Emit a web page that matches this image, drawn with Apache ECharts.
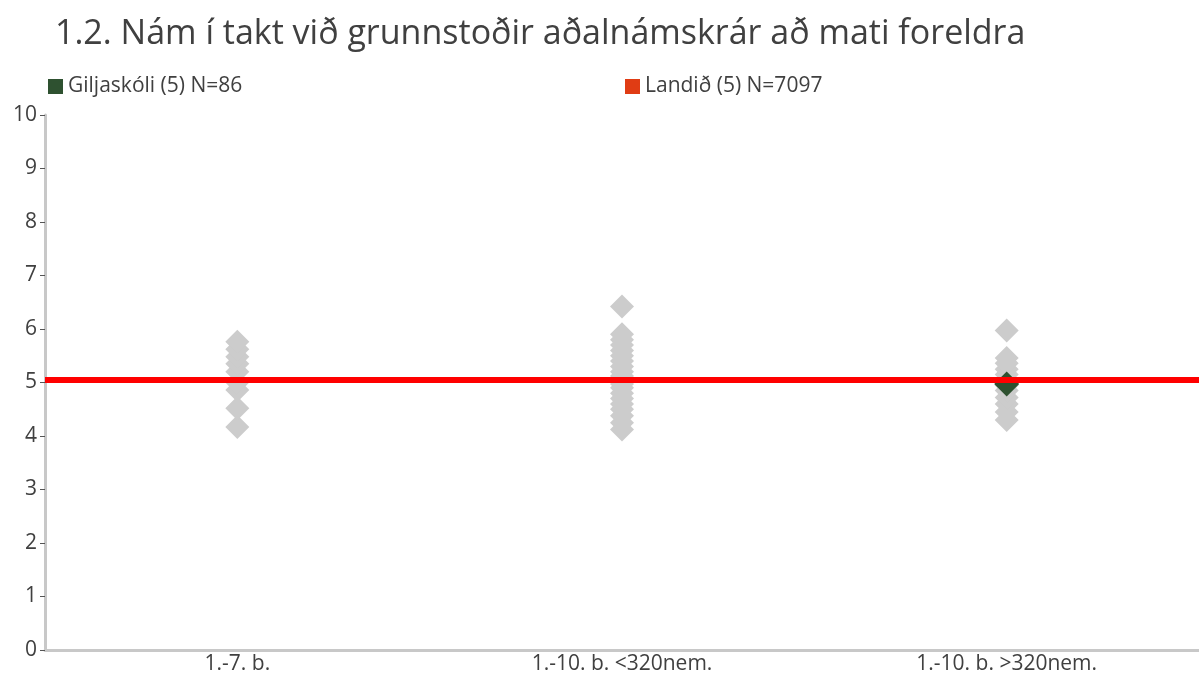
<!DOCTYPE html>
<html>
<head>
<meta charset="utf-8">
<script src="https://cdn.jsdelivr.net/npm/echarts@6/dist/echarts.min.js"></script>
<style>
  html, body { margin: 0; padding: 0; background: #fff; }
  #chart { width: 1199px; height: 675px; }
</style>
</head>
<body>
<div id="chart"></div>
<script>
var categories = ['1.-7. b.', '1.-10. b. <320nem.', '1.-10. b. >320nem.']
var yTicks = [0, 1, 2, 3, 4, 5, 6, 7, 8, 9, 10]

// other schools per group (grey diamonds)
var group1 = [4.17, 4.52, 4.86, 5.0, 5.2, 5.35, 5.48, 5.62, 5.76]
var group2 = [4.12, 4.25, 4.38, 4.5, 4.6, 4.7, 4.8, 4.9, 4.97, 5.04, 5.12, 5.2, 5.3, 5.4, 5.5, 5.6, 5.7, 5.8, 5.9, 6.42]
var group3 = [4.3, 4.45, 4.6, 4.72, 4.85, 4.95, 5.05, 5.15, 5.25, 5.36, 5.46, 5.97]

var schoolName = 'Giljaskóli (5) N=86'
var schoolValues = [null, null, 4.97]
var landName = 'Landið (5) N=7097'
var landValue = 5.05

var greyData = []
group1.forEach(function(v) { greyData.push([0, v]) })
group2.forEach(function(v) { greyData.push([1, v]) })
group3.forEach(function(v) { greyData.push([2, v]) })

var schoolData = []
schoolValues.forEach(function(v, i) {
  if (v !== null) schoolData.push([i, v])
})

var textColor = '#404040'
var font = 'Open Sans'

var myChart = echarts.init(document.getElementById('chart'), null, { renderer: 'canvas' })

var option = {
  animation: false,
  title: {
    text: '1.2. Nám í takt við grunnstoðir aðalnámskrár að mati foreldra',
    left: 50,
    top: 12,
    textStyle: { fontFamily: font, fontSize: 34, fontWeight: 'normal', color: textColor }
  },
  legend: [
    {
      data: [schoolName],
      left: 43,
      top: 71,
      icon: 'rect',
      itemWidth: 15,
      itemHeight: 15,
      itemGap: 6,
      textStyle: { fontFamily: font, fontSize: 21, color: textColor }
    },
    {
      data: [landName],
      left: 620,
      top: 71,
      icon: 'rect',
      itemWidth: 15,
      itemHeight: 15,
      textStyle: { fontFamily: font, fontSize: 21, color: textColor }
    }
  ],
  grid: {
    left: 45,
    top: 115,
    width: 1164,
    height: 537
  },
  xAxis: {
    type: 'category',
    data: categories,
    axisLine: { lineStyle: { color: '#c8c8c8', width: 3 } },
    axisTick: { show: false },
    axisLabel: { fontFamily: font, fontSize: 21, color: textColor, margin: 4 },
    splitLine: { show: false }
  },
  yAxis: {
    type: 'value',
    min: yTicks[0],
    max: yTicks[yTicks.length - 1],
    interval: 1,
    axisLine: { show: true, lineStyle: { color: '#c8c8c8', width: 3 } },
    axisTick: { show: true, length: 5, lineStyle: { color: '#555', width: 1 } },
    axisLabel: { fontFamily: font, fontSize: 21, color: textColor, margin: 8 },
    splitLine: { show: false }
  },
  series: [
    {
      name: 'other',
      type: 'scatter',
      symbol: 'diamond',
      symbolSize: 24,
      itemStyle: { color: '#cccccc', opacity: 1 },
      data: greyData,
      z: 2
    },
    {
      name: landName,
      type: 'scatter',
      data: [],
      itemStyle: { color: '#e03c14', opacity: 1 },
      markLine: {
        silent: true,
        symbol: ['none', 'none'],
        label: { show: false },
        lineStyle: { color: '#ff0000', width: 6, type: 'solid', opacity: 1 },
        data: [{ yAxis: landValue }]
      },
      z: 3
    },
    {
      name: schoolName,
      type: 'scatter',
      symbol: 'diamond',
      symbolSize: 25,
      itemStyle: { color: '#2e5130', opacity: 1 },
      data: schoolData,
      z: 4
    }
  ]
}

myChart.setOption(option)
</script>
</body>
</html>
